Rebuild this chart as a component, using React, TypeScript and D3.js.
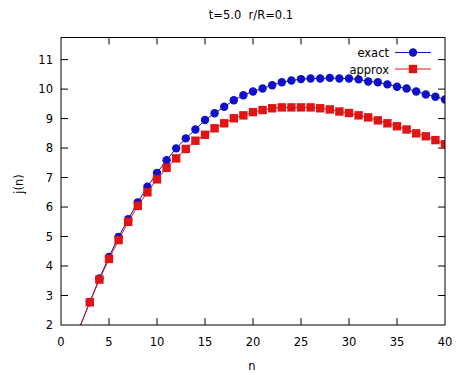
import React from "react";
import * as d3 from "d3";

const nValues = [2, 3, 4, 5, 6, 7, 8, 9, 10, 11, 12, 13, 14, 15, 16, 17, 18, 19, 20, 21, 22, 23, 24, 25, 26, 27, 28, 29, 30, 31, 32, 33, 34, 35, 36, 37, 38, 39, 40];
const exactValues = [1.97, 2.78, 3.58, 4.31, 4.99, 5.59, 6.16, 6.69, 7.16, 7.59, 7.99, 8.33, 8.63, 8.95, 9.18, 9.40, 9.62, 9.79, 9.92, 10.02, 10.13, 10.23, 10.29, 10.34, 10.36, 10.36, 10.38, 10.36, 10.36, 10.33, 10.26, 10.23, 10.16, 10.08, 10.02, 9.92, 9.82, 9.74, 9.65];
const approxValues = [1.96, 2.77, 3.54, 4.24, 4.88, 5.50, 6.04, 6.50, 6.94, 7.33, 7.65, 7.97, 8.25, 8.45, 8.67, 8.84, 9.01, 9.11, 9.22, 9.29, 9.35, 9.38, 9.38, 9.38, 9.38, 9.35, 9.31, 9.24, 9.19, 9.11, 9.04, 8.94, 8.84, 8.74, 8.63, 8.50, 8.40, 8.27, 8.13];
const xTicks = [0, 5, 10, 15, 20, 25, 30, 35, 40];
const yTicks = [2, 3, 4, 5, 6, 7, 8, 9, 10, 11];
const seriesNames = ["exact", "approx"];
const titleText = "t=5.0  r/R=0.1";

const BLUE = "#1010c8";
const RED = "#e01414";
const FONT = "DejaVu Sans, Verdana, sans-serif";

export default function App() {
  const W = 460, H = 375;
  const L = 61, R = 445, T = 37.5, B = 325;
  const x = d3.scaleLinear().domain([0, 40]).range([L, R]);
  const y = d3.scaleLinear().domain([2, 11.75]).range([B, T]);
  const line = d3.line<number>().x((_, i) => x(nValues[i])).y((v) => y(v));
  const inRange = (v: number) => v >= 2 && v <= 11.75;
  const tick = 7;

  return (
    <svg width={W} height={H} style={{ position: "absolute", left: 0, top: 0, background: "#fff" }} fontFamily={FONT}>
      <defs>
        <clipPath id="plotclip">
          <rect x={L} y={T} width={R - L} height={B - T} />
        </clipPath>
      </defs>
      <rect x={0} y={0} width={W} height={H} fill="#fff" />
      <text x={251} y={19} fontSize={11.5} textAnchor="middle" fill="#000" style={{ whiteSpace: "pre" }}>{titleText}</text>
      {/* ticks */}
      {xTicks.map((t) => (
        <g key={"xt" + t}>
          {t > 0 && t < 40 && <line x1={x(t)} x2={x(t)} y1={B} y2={B - tick} stroke="#000" />}
          {t > 0 && t < 40 && <line x1={x(t)} x2={x(t)} y1={T} y2={T + tick} stroke="#000" />}
          <text x={x(t)} y={346} fontSize={11.5} textAnchor="middle" fill="#000">{t}</text>
        </g>
      ))}
      {yTicks.map((t) => (
        <g key={"yt" + t}>
          {t > 2 && <line x1={L} x2={L + tick} y1={y(t)} y2={y(t)} stroke="#000" />}
          {t > 2 && <line x1={R} x2={R - tick} y1={y(t)} y2={y(t)} stroke="#000" />}
          <text x={53} y={y(t) + 4} fontSize={11.5} textAnchor="end" fill="#000">{t}</text>
        </g>
      ))}
      <text x={252} y={370} fontSize={11.5} textAnchor="middle" fill="#000">n</text>
      <text transform={`translate(23,184) rotate(-90)`} fontSize={11.5} textAnchor="middle" fill="#000">j(n)</text>
      {/* series */}
      <g clipPath="url(#plotclip)">
        <path d={line(exactValues) || ""} fill="none" stroke={BLUE} strokeWidth={1} />
        {exactValues.map((v, i) => inRange(v) ? (
          <circle key={"e" + i} cx={x(nValues[i])} cy={y(v)} r={4.2} fill={BLUE} />
        ) : null)}
        <path d={line(approxValues) || ""} fill="none" stroke={RED} strokeWidth={1} />
        {approxValues.map((v, i) => inRange(v) ? (
          <rect key={"a" + i} x={x(nValues[i]) - 4.2} y={y(v) - 4.2} width={8.4} height={8.4} fill={RED} />
        ) : null)}
      </g>
      {/* border */}
      <rect x={L} y={T} width={R - L} height={B - T} fill="none" stroke="#000" strokeWidth={1} />
      {/* legend */}
      <text x={389} y={57} fontSize={11.5} textAnchor="end" fill="#000">{seriesNames[0]}</text>
      <line x1={395} x2={431} y1={52.5} y2={52.5} stroke={BLUE} />
      <circle cx={413} cy={52.5} r={4.2} fill={BLUE} />
      <text x={389} y={73.5} fontSize={11.5} textAnchor="end" fill="#000">{seriesNames[1]}</text>
      <line x1={395} x2={431} y1={69} y2={69} stroke={RED} />
      <rect x={413 - 4.2} y={69 - 4.2} width={8.4} height={8.4} fill={RED} />
    </svg>
  );
}
